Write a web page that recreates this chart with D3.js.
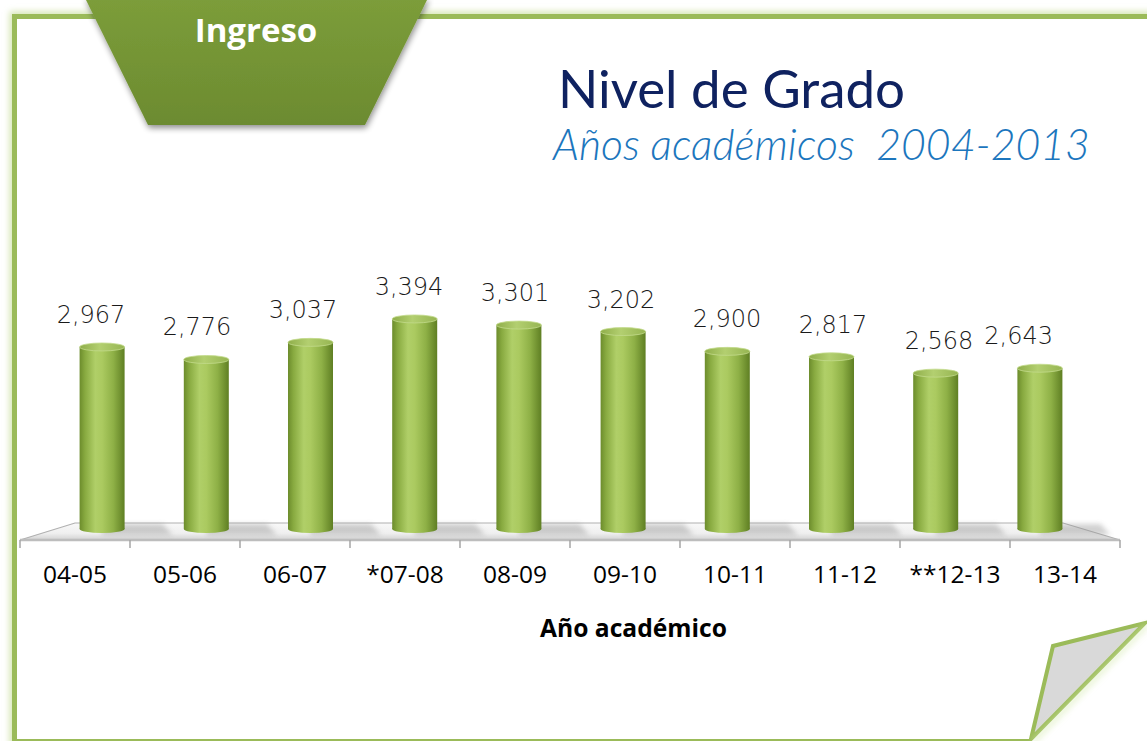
<!DOCTYPE html>
<html>
<head>
<meta charset="utf-8">
<script src="https://cdn.jsdelivr.net/npm/d3@7"></script>
<style>
  html, body { margin: 0; padding: 0; background: #ffffff; }
  svg { display: block; }
  text { white-space: pre; }
</style>
</head>
<body>
<svg id="chart" width="1147" height="741"></svg>
<script>
// ---- data ----
const categories = ["04-05", "05-06", "06-07", "*07-08", "08-09", "09-10", "10-11", "11-12", "**12-13", "13-14"];
const values = [2967, 2776, 3037, 3394, 3301, 3202, 2900, 2817, 2568, 2643];
const tabLabel = "Ingreso";
const titleText = "Nivel de Grado";
const subtitleText = "Años académicos  2004-2013";
const xAxisTitle = "Año académico";

// ---- setup ----
const W = 1147, H = 741;
const svg = d3.select("#chart");
const defs = svg.append("defs");

// gradients / filters
const barGrad = defs.append("linearGradient").attr("id", "barGrad")
  .attr("x1", "0%").attr("x2", "100%").attr("y1", "0%").attr("y2", "0%");
[["0%", "#6c8c2c"], ["12%", "#88aa40"], ["35%", "#b0cf68"], ["50%", "#abca60"], ["75%", "#8eb046"], ["100%", "#5f7f23"]]
  .forEach(([o, c]) => barGrad.append("stop").attr("offset", o).attr("stop-color", c));

const topGrad = defs.append("linearGradient").attr("id", "topGrad")
  .attr("x1", "0%").attr("x2", "100%").attr("y1", "0%").attr("y2", "0%");
[["0%", "#8fae4a"], ["45%", "#b3cf70"], ["100%", "#96b552"]]
  .forEach(([o, c]) => topGrad.append("stop").attr("offset", o).attr("stop-color", c));

const floorGrad = defs.append("linearGradient").attr("id", "floorGrad")
  .attr("x1", "0%").attr("x2", "0%").attr("y1", "0%").attr("y2", "100%");
[["0%", "#f9f9f9"], ["60%", "#efefef"], ["100%", "#d2d2d2"]]
  .forEach(([o, c]) => floorGrad.append("stop").attr("offset", o).attr("stop-color", c));

const tabGrad = defs.append("linearGradient").attr("id", "tabGrad")
  .attr("x1", "0%").attr("x2", "0%").attr("y1", "0%").attr("y2", "100%");
[["0%", "#7c9d3a"], ["100%", "#6c8b30"]]
  .forEach(([o, c]) => tabGrad.append("stop").attr("offset", o).attr("stop-color", c));

const glow = defs.append("filter").attr("id", "glow").attr("x", "-5%").attr("y", "-5%").attr("width", "110%").attr("height", "110%");
glow.append("feGaussianBlur").attr("stdDeviation", 3);

const shadow = defs.append("filter").attr("id", "shadow").attr("x", "-20%").attr("y", "-20%").attr("width", "140%").attr("height", "150%");
shadow.append("feGaussianBlur").attr("in", "SourceAlpha").attr("stdDeviation", 3);
shadow.append("feOffset").attr("dx", 1).attr("dy", 3).attr("result", "ob");
shadow.append("feComponentTransfer").append("feFuncA").attr("type", "linear").attr("slope", 0.45);
const sm = shadow.append("feMerge");
sm.append("feMergeNode");
sm.append("feMergeNode").attr("in", "SourceGraphic");

const blur2 = defs.append("filter").attr("id", "blur2").attr("x", "-30%").attr("y", "-100%").attr("width", "160%").attr("height", "300%");
blur2.append("feGaussianBlur").attr("stdDeviation", 2.5);

// ---- frame ----
svg.append("rect").attr("x", 14.5).attr("y", 16.5).attr("width", W + 20).attr("height", 725)
  .attr("fill", "none").attr("stroke", "#d6e6b4").attr("stroke-width", 10).attr("filter", "url(#glow)");
svg.append("rect").attr("x", 14.5).attr("y", 16.5).attr("width", W + 20).attr("height", 725)
  .attr("fill", "#ffffff").attr("stroke", "#9bbb59").attr("stroke-width", 5);

// ---- tab ----
svg.append("polygon")
  .attr("points", [[85, -2], [428, -2], [365, 125], [148, 125]].map(p => p.join(",")).join(" "))
  .attr("fill", "url(#tabGrad)").attr("filter", "url(#shadow)");
svg.append("text").attr("x", 256).attr("y", 42).attr("text-anchor", "middle")
  .attr("font-family", "'Open Sans', sans-serif").attr("font-weight", 700).attr("font-size", 33)
  .attr("fill", "#ffffff").text(tabLabel);

// ---- titles (fit to target widths) ----
function fitText(sel, targetW) {
  const n = sel.node();
  const fs = parseFloat(sel.attr("font-size"));
  const w = n.getComputedTextLength();
  sel.attr("font-size", (fs * targetW / w).toFixed(2));
}
const t1 = svg.append("text").attr("x", 558).attr("y", 108)
  .attr("font-family", "Lato, 'Open Sans', sans-serif").attr("font-weight", 400).attr("font-size", 52)
  .attr("fill", "#0f2260").text(titleText);
fitText(t1, 347);
const t2 = svg.append("text").attr("x", 553).attr("y", 160)
  .attr("font-family", "Lato, 'Open Sans', sans-serif").attr("font-style", "italic").attr("font-weight", 300).attr("font-size", 38)
  .attr("fill", "#1c76bd").text(subtitleText);
fitText(t2, 537);

// ---- scales ----
const xBars = d3.scaleBand().domain(categories).range([50, 1092]);
const xFront = d3.scaleBand().domain(categories).range([20, 1120]);
const xBack = d3.scaleBand().domain(categories).range([75, 1063]);
const xLabels = d3.scaleBand().domain(categories).range([38, 1098]);
const y = d3.scaleLinear().domain([0, 3500]).range([541.6, 312.0]);

const floorBackY = 523, floorFrontY = 540, barBaseY = 529;
const barW = 45, ry = 4;

// ---- floor ----
const floorPts = [[xBack.range()[0], floorBackY], [xBack.range()[1], floorBackY],
                  [xFront.range()[1], floorFrontY], [xFront.range()[0], floorFrontY]];
svg.append("polygon").attr("points", floorPts.map(p => p.join(",")).join(" "))
  .attr("fill", "url(#floorGrad)").attr("stroke", "#b0b0b0").attr("stroke-width", 1.2);
svg.append("line").attr("x1", xFront.range()[0]).attr("x2", xFront.range()[1])
  .attr("y1", floorFrontY).attr("y2", floorFrontY).attr("stroke", "#bdbdbd").attr("stroke-width", 2.5);

// bar shadows on floor
svg.append("g").selectAll("polygon").data(categories).join("polygon")
  .attr("points", d => {
    const cx = xBars(d) + xBars.bandwidth() / 2;
    return [[cx, barBaseY - 5], [cx + barW / 2 + 38, barBaseY - 5], [cx + barW / 2 + 48, barBaseY + 6], [cx, barBaseY + 6]]
      .map(p => p.join(",")).join(" ");
  })
  .attr("fill", "#9a9a9a").attr("opacity", 0.45).attr("filter", "url(#blur2)");

// ticks at category boundaries
const tickXs = categories.map(c => xFront(c)).concat([xFront.range()[1]]);
svg.append("g").selectAll("line").data(tickXs).join("line")
  .attr("x1", d => d).attr("x2", d => d).attr("y1", floorFrontY).attr("y2", floorFrontY + 8)
  .attr("stroke", "#a6a6a6").attr("stroke-width", 1.5);

// ---- cylinders ----
const bars = svg.append("g").selectAll("g").data(values).join("g")
  .attr("transform", (d, i) => `translate(${xBars(categories[i]) + xBars.bandwidth() / 2},0)`);
bars.append("ellipse").attr("cx", 0).attr("cy", barBaseY).attr("rx", barW / 2).attr("ry", ry)
  .attr("fill", "url(#barGrad)");
bars.append("rect").attr("x", -barW / 2).attr("width", barW)
  .attr("y", d => y(d)).attr("height", d => barBaseY - y(d))
  .attr("fill", "url(#barGrad)");
bars.append("ellipse").attr("cx", 0).attr("cy", d => y(d)).attr("rx", barW / 2).attr("ry", ry)
  .attr("fill", "url(#topGrad)").attr("stroke", "#c3da8c").attr("stroke-width", 0.8);

// ---- value labels ----
const fmt = d3.format(",");
const lbl = svg.append("g").selectAll("text").data(values).join("text")
  .attr("x", (d, i) => xLabels(categories[i]) + xLabels.bandwidth() / 2)
  .attr("y", d => y(d) - ry - 20)
  .attr("text-anchor", "middle")
  .attr("font-family", "'DejaVu Sans', sans-serif").attr("font-weight", 300).attr("font-size", 24)
  .attr("fill", "#1a1a1a").text(d => fmt(d));
// keep labels inside the plot's right edge
const plotRight = 1053;
lbl.each(function () {
  const s = d3.select(this);
  const w = this.getComputedTextLength();
  const x = +s.attr("x");
  if (x + w / 2 > plotRight) s.attr("x", plotRight - w / 2);
});

// ---- category labels ----
const xAxis = d3.axisBottom(xFront).tickSize(0).tickPadding(0);
const gAx = svg.append("g").attr("transform", `translate(0,${floorFrontY})`).call(xAxis);
gAx.select(".domain").remove();
gAx.selectAll("text").attr("dy", null).attr("y", 43)
  .attr("font-family", "'Open Sans', sans-serif").attr("font-size", 24.5).attr("fill", "#000");

const at = svg.append("text").attr("x", 633.5).attr("y", 637).attr("text-anchor", "middle")
  .attr("font-family", "'Open Sans', sans-serif").attr("font-weight", 700).attr("font-size", 21)
  .attr("fill", "#000").text(xAxisTitle);
fitText(at, 187);

// ---- page curl ----
svg.append("polygon").attr("points", "1030,741 1147,619 1147,741 1030,741")
  .attr("fill", "#ffffff");
svg.append("polygon").attr("points", "1031,739 1053,646 1145,623")
  .attr("fill", "#d9d9d9").attr("stroke", "#9bbb59").attr("stroke-width", 4).attr("stroke-linejoin", "miter");
svg.append("line").attr("x1", 1033).attr("y1", 742).attr("x2", 1147).attr("y2", 625)
  .attr("stroke", "#d6eab0").attr("stroke-width", 4).attr("filter", "url(#glow)").attr("opacity", 0.7);
</script>
</body>
</html>
